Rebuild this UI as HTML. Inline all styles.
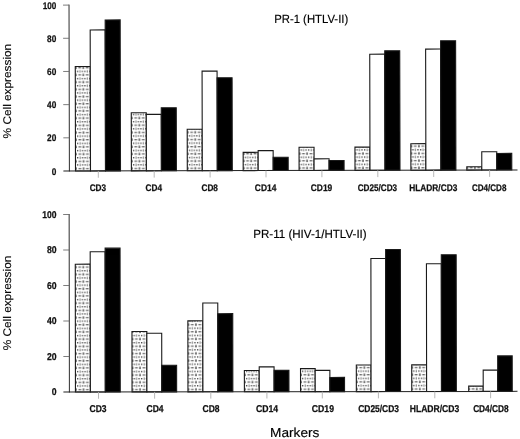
<!DOCTYPE html>
<html><head><meta charset="utf-8"><title>Cell expression markers</title>
<style>
html,body{margin:0;padding:0;background:#fff;}
body{width:520px;height:439px;overflow:hidden;}
svg{display:block;will-change:transform;opacity:0.999;}
text{font-family:"Liberation Sans",Arial,Helvetica,sans-serif;fill:#111;text-rendering:geometricPrecision;}
.b{font-weight:bold;font-size:9.6px;stroke:#111;stroke-width:0.25px;}
.b2{font-size:9.9px;}
.t{font-size:12px;fill:#000;stroke:#000;stroke-width:0.15px;}
.m{font-size:13px;fill:#000;stroke:#000;stroke-width:0.15px;}
</style></head><body>
<svg width="520" height="439" viewBox="0 0 520 439">
<defs>
<pattern id="dots" x="0.6" y="-0.4" width="7.5" height="7.2" patternUnits="userSpaceOnUse">
<rect width="7.5" height="7.2" fill="#fff"/>
<rect x="1.0" y="1.0" width="1.2" height="1.2" fill="#222"/>
<rect x="3.5" y="0.4" width="1.0" height="2.5" fill="#777"/>
<rect x="5.9" y="1.0" width="1.2" height="1.2" fill="#222"/>
<rect x="-0.1" y="4.0" width="1.0" height="2.4" fill="#777"/>
<rect x="6.5" y="4.0" width="1.0" height="2.4" fill="#777"/>
<rect x="2.4" y="4.7" width="2.8" height="1.0" fill="#444"/>
</pattern>
</defs>
<rect width="520" height="439" fill="#fff"/>
<g transform="rotate(-0.13 69.4 171.0)">
<g transform="translate(75.50,171.00)"><rect x="0" y="-104.52" width="15.00" height="104.52" fill="url(#dots)" stroke="#1a1a1a" stroke-width="1.1"/></g>
<rect x="90.50" y="29.98" width="15.00" height="141.02" fill="#ffffff" stroke="#1a1a1a" stroke-width="1.1"/>
<rect x="105.50" y="20.03" width="15.00" height="150.97" fill="#000000" stroke="#1a1a1a" stroke-width="1.1"/>
<g transform="translate(131.40,171.00)"><rect x="0" y="-58.06" width="15.00" height="58.06" fill="url(#dots)" stroke="#1a1a1a" stroke-width="1.1"/></g>
<rect x="146.40" y="114.59" width="15.00" height="56.41" fill="#ffffff" stroke="#1a1a1a" stroke-width="1.1"/>
<rect x="161.40" y="107.96" width="15.00" height="63.04" fill="#000000" stroke="#1a1a1a" stroke-width="1.1"/>
<g transform="translate(187.30,171.00)"><rect x="0" y="-41.47" width="15.00" height="41.47" fill="url(#dots)" stroke="#1a1a1a" stroke-width="1.1"/></g>
<rect x="202.30" y="71.46" width="15.00" height="99.54" fill="#ffffff" stroke="#1a1a1a" stroke-width="1.1"/>
<rect x="217.30" y="78.10" width="15.00" height="92.90" fill="#000000" stroke="#1a1a1a" stroke-width="1.1"/>
<g transform="translate(243.20,171.00)"><rect x="0" y="-18.25" width="15.00" height="18.25" fill="url(#dots)" stroke="#1a1a1a" stroke-width="1.1"/></g>
<rect x="258.20" y="151.09" width="15.00" height="19.91" fill="#ffffff" stroke="#1a1a1a" stroke-width="1.1"/>
<rect x="273.20" y="157.73" width="15.00" height="13.27" fill="#000000" stroke="#1a1a1a" stroke-width="1.1"/>
<g transform="translate(299.10,171.00)"><rect x="0" y="-23.23" width="15.00" height="23.23" fill="url(#dots)" stroke="#1a1a1a" stroke-width="1.1"/></g>
<rect x="314.10" y="159.39" width="15.00" height="11.61" fill="#ffffff" stroke="#1a1a1a" stroke-width="1.1"/>
<rect x="329.10" y="161.05" width="15.00" height="9.95" fill="#000000" stroke="#1a1a1a" stroke-width="1.1"/>
<g transform="translate(355.00,171.00)"><rect x="0" y="-23.23" width="15.00" height="23.23" fill="url(#dots)" stroke="#1a1a1a" stroke-width="1.1"/></g>
<rect x="370.00" y="54.87" width="15.00" height="116.13" fill="#ffffff" stroke="#1a1a1a" stroke-width="1.1"/>
<rect x="385.00" y="51.55" width="15.00" height="119.45" fill="#000000" stroke="#1a1a1a" stroke-width="1.1"/>
<g transform="translate(410.90,171.00)"><rect x="0" y="-26.54" width="15.00" height="26.54" fill="url(#dots)" stroke="#1a1a1a" stroke-width="1.1"/></g>
<rect x="425.90" y="49.89" width="15.00" height="121.11" fill="#ffffff" stroke="#1a1a1a" stroke-width="1.1"/>
<rect x="440.90" y="41.60" width="15.00" height="129.40" fill="#000000" stroke="#1a1a1a" stroke-width="1.1"/>
<g transform="translate(466.80,171.00)"><rect x="0" y="-3.32" width="15.00" height="3.32" fill="url(#dots)" stroke="#1a1a1a" stroke-width="1.1"/></g>
<rect x="481.80" y="152.75" width="15.00" height="18.25" fill="#ffffff" stroke="#1a1a1a" stroke-width="1.1"/>
<rect x="496.80" y="154.41" width="15.00" height="16.59" fill="#000000" stroke="#1a1a1a" stroke-width="1.1"/>
<line x1="69.4" y1="4.6" x2="69.4" y2="171.5" stroke="#222" stroke-width="0.95"/>
<line x1="63.4" y1="171.0" x2="517.5" y2="171.0" stroke="#222" stroke-width="1.0"/>
<line x1="63.4" y1="137.82" x2="69.4" y2="137.82" stroke="#666" stroke-width="0.85"/>
<line x1="63.4" y1="104.64" x2="69.4" y2="104.64" stroke="#666" stroke-width="0.85"/>
<line x1="63.4" y1="71.46" x2="69.4" y2="71.46" stroke="#666" stroke-width="0.85"/>
<line x1="63.4" y1="38.28" x2="69.4" y2="38.28" stroke="#666" stroke-width="0.85"/>
<line x1="63.4" y1="5.10" x2="69.4" y2="5.10" stroke="#666" stroke-width="0.85"/>
<line x1="98.30" y1="171.0" x2="98.30" y2="177.8" stroke="#b0b0b0" stroke-width="0.9"/>
<line x1="154.20" y1="171.0" x2="154.20" y2="177.8" stroke="#b0b0b0" stroke-width="0.9"/>
<line x1="210.10" y1="171.0" x2="210.10" y2="177.8" stroke="#b0b0b0" stroke-width="0.9"/>
<line x1="266.00" y1="171.0" x2="266.00" y2="177.8" stroke="#b0b0b0" stroke-width="0.9"/>
<line x1="321.90" y1="171.0" x2="321.90" y2="177.8" stroke="#b0b0b0" stroke-width="0.9"/>
<line x1="377.80" y1="171.0" x2="377.80" y2="177.8" stroke="#b0b0b0" stroke-width="0.9"/>
<line x1="433.70" y1="171.0" x2="433.70" y2="177.8" stroke="#b0b0b0" stroke-width="0.9"/>
<line x1="489.60" y1="171.0" x2="489.60" y2="177.8" stroke="#b0b0b0" stroke-width="0.9"/>
</g>
<text x="56.30" y="174.50" class="b" text-anchor="end" textLength="4.60" lengthAdjust="spacingAndGlyphs">0</text>
<text x="56.30" y="141.32" class="b" text-anchor="end" textLength="9.20" lengthAdjust="spacingAndGlyphs">20</text>
<text x="56.30" y="108.14" class="b" text-anchor="end" textLength="9.20" lengthAdjust="spacingAndGlyphs">40</text>
<text x="56.30" y="74.96" class="b" text-anchor="end" textLength="9.20" lengthAdjust="spacingAndGlyphs">60</text>
<text x="56.30" y="41.78" class="b" text-anchor="end" textLength="9.20" lengthAdjust="spacingAndGlyphs">80</text>
<text x="56.30" y="8.60" class="b" text-anchor="end" textLength="13.60" lengthAdjust="spacingAndGlyphs">100</text>
<text x="97.90" y="190.5" class="b" text-anchor="middle" textLength="16.50" lengthAdjust="spacingAndGlyphs">CD3</text>
<text x="153.80" y="190.5" class="b" text-anchor="middle" textLength="16.50" lengthAdjust="spacingAndGlyphs">CD4</text>
<text x="209.70" y="190.5" class="b" text-anchor="middle" textLength="16.50" lengthAdjust="spacingAndGlyphs">CD8</text>
<text x="265.60" y="190.5" class="b" text-anchor="middle" textLength="21.50" lengthAdjust="spacingAndGlyphs">CD14</text>
<text x="321.50" y="190.5" class="b" text-anchor="middle" textLength="21.50" lengthAdjust="spacingAndGlyphs">CD19</text>
<text x="377.40" y="190.5" class="b" text-anchor="middle" textLength="39.50" lengthAdjust="spacingAndGlyphs">CD25/CD3</text>
<text x="433.30" y="190.5" class="b" text-anchor="middle" textLength="48.00" lengthAdjust="spacingAndGlyphs">HLADR/CD3</text>
<text x="489.20" y="190.5" class="b" text-anchor="middle" textLength="34.50" lengthAdjust="spacingAndGlyphs">CD4/CD8</text>
<text x="274.2" y="23.4" class="t" textLength="74" lengthAdjust="spacingAndGlyphs">PR-1 (HTLV-II)</text>
<text transform="translate(11,91.1) scale(0.925,1) rotate(-90)" class="t" text-anchor="middle" textLength="94.6" lengthAdjust="spacingAndGlyphs">% Cell expression</text>
<g transform="rotate(-0.08 69.4 392.0)">
<g transform="translate(75.45,392.00)"><rect x="0" y="-127.80" width="14.93" height="127.80" fill="url(#dots)" stroke="#1a1a1a" stroke-width="1.1"/></g>
<rect x="90.38" y="251.78" width="14.93" height="140.22" fill="#ffffff" stroke="#1a1a1a" stroke-width="1.1"/>
<rect x="105.32" y="248.22" width="14.93" height="143.78" fill="#000000" stroke="#1a1a1a" stroke-width="1.1"/>
<g transform="translate(132.05,392.00)"><rect x="0" y="-60.35" width="14.87" height="60.35" fill="url(#dots)" stroke="#1a1a1a" stroke-width="1.1"/></g>
<rect x="146.92" y="333.43" width="14.87" height="58.57" fill="#ffffff" stroke="#1a1a1a" stroke-width="1.1"/>
<rect x="161.78" y="365.38" width="14.87" height="26.62" fill="#000000" stroke="#1a1a1a" stroke-width="1.1"/>
<g transform="translate(187.95,392.00)"><rect x="0" y="-71.00" width="14.97" height="71.00" fill="url(#dots)" stroke="#1a1a1a" stroke-width="1.1"/></g>
<rect x="202.92" y="303.25" width="14.97" height="88.75" fill="#ffffff" stroke="#1a1a1a" stroke-width="1.1"/>
<rect x="217.88" y="313.90" width="14.97" height="78.10" fill="#000000" stroke="#1a1a1a" stroke-width="1.1"/>
<g transform="translate(244.40,392.00)"><rect x="0" y="-21.30" width="14.85" height="21.30" fill="url(#dots)" stroke="#1a1a1a" stroke-width="1.1"/></g>
<rect x="259.25" y="367.15" width="14.85" height="24.85" fill="#ffffff" stroke="#1a1a1a" stroke-width="1.1"/>
<rect x="274.10" y="370.70" width="14.85" height="21.30" fill="#000000" stroke="#1a1a1a" stroke-width="1.1"/>
<g transform="translate(300.55,392.00)"><rect x="0" y="-23.07" width="14.67" height="23.07" fill="url(#dots)" stroke="#1a1a1a" stroke-width="1.1"/></g>
<rect x="315.22" y="370.70" width="14.67" height="21.30" fill="#ffffff" stroke="#1a1a1a" stroke-width="1.1"/>
<rect x="329.88" y="377.80" width="14.67" height="14.20" fill="#000000" stroke="#1a1a1a" stroke-width="1.1"/>
<g transform="translate(356.35,392.00)"><rect x="0" y="-26.62" width="14.73" height="26.62" fill="url(#dots)" stroke="#1a1a1a" stroke-width="1.1"/></g>
<rect x="371.08" y="258.88" width="14.73" height="133.12" fill="#ffffff" stroke="#1a1a1a" stroke-width="1.1"/>
<rect x="385.82" y="250.00" width="14.73" height="142.00" fill="#000000" stroke="#1a1a1a" stroke-width="1.1"/>
<g transform="translate(411.75,392.00)"><rect x="0" y="-26.62" width="14.87" height="26.62" fill="url(#dots)" stroke="#1a1a1a" stroke-width="1.1"/></g>
<rect x="426.62" y="264.20" width="14.87" height="127.80" fill="#ffffff" stroke="#1a1a1a" stroke-width="1.1"/>
<rect x="441.48" y="255.33" width="14.87" height="136.67" fill="#000000" stroke="#1a1a1a" stroke-width="1.1"/>
<g transform="translate(468.70,392.00)"><rect x="0" y="-5.32" width="14.52" height="5.32" fill="url(#dots)" stroke="#1a1a1a" stroke-width="1.1"/></g>
<rect x="483.22" y="370.70" width="14.52" height="21.30" fill="#ffffff" stroke="#1a1a1a" stroke-width="1.1"/>
<rect x="497.73" y="356.50" width="14.52" height="35.50" fill="#000000" stroke="#1a1a1a" stroke-width="1.1"/>
<line x1="69.4" y1="214.0" x2="69.4" y2="392.5" stroke="#222" stroke-width="0.95"/>
<line x1="63.4" y1="392.0" x2="517.5" y2="392.0" stroke="#222" stroke-width="1.0"/>
<line x1="63.4" y1="356.50" x2="69.4" y2="356.50" stroke="#666" stroke-width="0.85"/>
<line x1="63.4" y1="321.00" x2="69.4" y2="321.00" stroke="#666" stroke-width="0.85"/>
<line x1="63.4" y1="285.50" x2="69.4" y2="285.50" stroke="#666" stroke-width="0.85"/>
<line x1="63.4" y1="250.00" x2="69.4" y2="250.00" stroke="#666" stroke-width="0.85"/>
<line x1="63.4" y1="214.50" x2="69.4" y2="214.50" stroke="#666" stroke-width="0.85"/>
<line x1="98.50" y1="392.0" x2="98.50" y2="398.8" stroke="#b0b0b0" stroke-width="0.9"/>
<line x1="154.60" y1="392.0" x2="154.60" y2="398.8" stroke="#b0b0b0" stroke-width="0.9"/>
<line x1="210.80" y1="392.0" x2="210.80" y2="398.8" stroke="#b0b0b0" stroke-width="0.9"/>
<line x1="266.90" y1="392.0" x2="266.90" y2="398.8" stroke="#b0b0b0" stroke-width="0.9"/>
<line x1="322.30" y1="392.0" x2="322.30" y2="398.8" stroke="#b0b0b0" stroke-width="0.9"/>
<line x1="378.40" y1="392.0" x2="378.40" y2="398.8" stroke="#b0b0b0" stroke-width="0.9"/>
<line x1="434.80" y1="392.0" x2="434.80" y2="398.8" stroke="#b0b0b0" stroke-width="0.9"/>
<line x1="490.60" y1="392.0" x2="490.60" y2="398.8" stroke="#b0b0b0" stroke-width="0.9"/>
</g>
<text x="56.60" y="395.20" class="b b2" text-anchor="end" textLength="4.82" lengthAdjust="spacingAndGlyphs">0</text>
<text x="56.60" y="359.70" class="b b2" text-anchor="end" textLength="9.64" lengthAdjust="spacingAndGlyphs">20</text>
<text x="56.60" y="324.20" class="b b2" text-anchor="end" textLength="9.64" lengthAdjust="spacingAndGlyphs">40</text>
<text x="56.60" y="288.70" class="b b2" text-anchor="end" textLength="9.64" lengthAdjust="spacingAndGlyphs">60</text>
<text x="56.60" y="253.20" class="b b2" text-anchor="end" textLength="9.64" lengthAdjust="spacingAndGlyphs">80</text>
<text x="56.60" y="217.70" class="b b2" text-anchor="end" textLength="14.25" lengthAdjust="spacingAndGlyphs">100</text>
<text x="98.00" y="411.6" class="b b2" text-anchor="middle" textLength="17.00" lengthAdjust="spacingAndGlyphs">CD3</text>
<text x="155.00" y="411.6" class="b b2" text-anchor="middle" textLength="17.00" lengthAdjust="spacingAndGlyphs">CD4</text>
<text x="211.10" y="411.6" class="b b2" text-anchor="middle" textLength="17.00" lengthAdjust="spacingAndGlyphs">CD8</text>
<text x="267.10" y="411.6" class="b b2" text-anchor="middle" textLength="22.14" lengthAdjust="spacingAndGlyphs">CD14</text>
<text x="322.90" y="411.6" class="b b2" text-anchor="middle" textLength="22.14" lengthAdjust="spacingAndGlyphs">CD19</text>
<text x="378.60" y="411.6" class="b b2" text-anchor="middle" textLength="40.69" lengthAdjust="spacingAndGlyphs">CD25/CD3</text>
<text x="434.50" y="411.6" class="b b2" text-anchor="middle" textLength="49.44" lengthAdjust="spacingAndGlyphs">HLADR/CD3</text>
<text x="490.90" y="411.6" class="b b2" text-anchor="middle" textLength="35.54" lengthAdjust="spacingAndGlyphs">CD4/CD8</text>
<text x="253.2" y="237.7" class="t" textLength="113.5" lengthAdjust="spacingAndGlyphs">PR-11 (HIV-1/HTLV-II)</text>
<text transform="translate(11,303.0) scale(0.925,1) rotate(-90)" class="t" text-anchor="middle" textLength="94.6" lengthAdjust="spacingAndGlyphs">% Cell expression</text>
<text x="270.1" y="437.1" class="m" textLength="49.3" lengthAdjust="spacingAndGlyphs">Markers</text>
</svg>
</body></html>
